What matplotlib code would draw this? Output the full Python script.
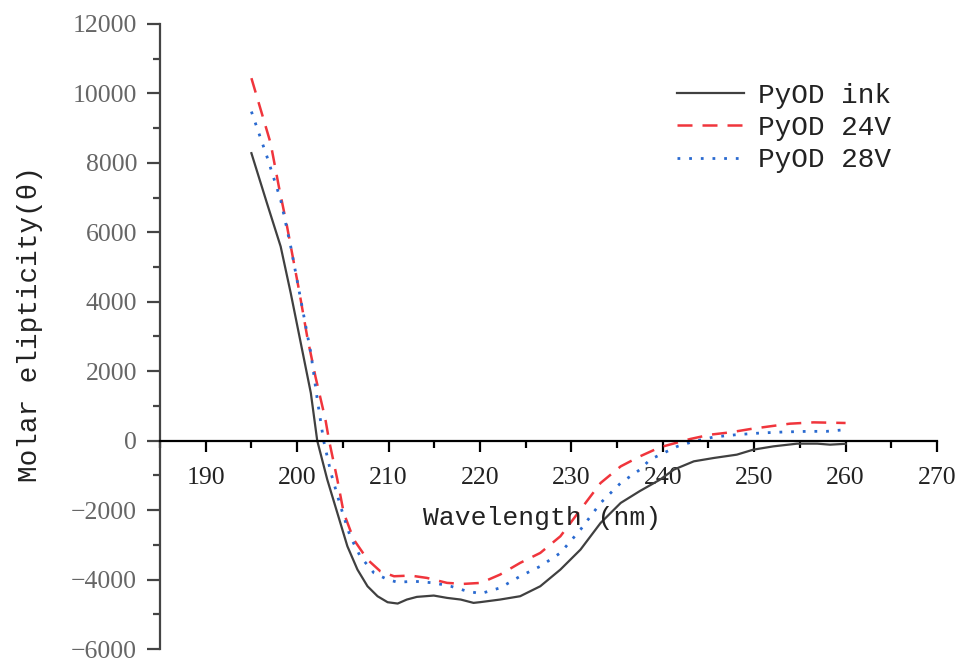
import numpy as np
import matplotlib
matplotlib.use("Agg")
import matplotlib.pyplot as plt
from matplotlib.ticker import MultipleLocator

# ---- data ----
ink_x = [195, 196.7, 198.2, 199.3, 200.4, 201.5, 202.2, 203.3, 204.4, 205.5, 206.6, 207.7,
         208.8, 209.9, 211.0, 212.0, 213.1, 214.95, 216.4, 217.9, 219.3, 220.05, 222.2,
         224.4, 226.6, 228.8, 231, 233.2, 235.4, 237.5, 239.7, 241.2, 243.4, 245.6, 248.1,
         249.9, 252.1, 254.7, 256.9, 258.3, 260]
ink_y = [8280, 6840, 5592, 4251, 2812, 1373, 0, -1122, -2081, -3042, -3713, -4193,
         -4481, -4653, -4691, -4576, -4499, -4461, -4528, -4576, -4672, -4650, -4576,
         -4480, -4193, -3713, -3137, -2369, -1793, -1450, -1122, -835, -595, -498, -403,
         -259, -164, -86, -86, -115, -90]

v24_x = [195, 197.1, 198.0, 198.9, 200.2, 201.1, 202.0, 203.1, 203.5, 204.4, 205.1, 206.2,
         207.7, 209.1, 210.6, 212.4, 214.2, 216.4, 218.2, 220.1, 222.2, 224.4, 226.6, 228.8,
         231, 233.2, 235.4, 237.5, 239.7, 243, 245.2, 247.4, 249.6, 251.7, 253.9, 256.5, 260]
v24_y = [10440, 8568, 7319, 6168, 4346, 3000, 1851, 604, 0, -1122, -2081, -2849,
         -3425, -3761, -3905, -3885, -3953, -4096, -4125, -4096, -3857, -3520, -3233, -2754,
         -1986, -1218, -740, -452, -190, 48, 173, 240, 336, 412, 489, 527, 509]

v28_x = [195, 196.7, 198.2, 199.3, 200.4, 201.5, 202.2, 202.9, 203.7, 204.75, 205.8, 206.9,
         208.4, 209.9, 211.0, 212.8, 214.95, 216.8, 218.6, 220.1, 222.2, 224.4, 226.6, 228.8,
         231, 233.2, 235.4, 237.5, 238.6, 240.1, 241.6, 243.4, 245.6, 248.1, 250.7, 253.2,
         255.8, 257.9, 260]
v28_y = [9478, 8182, 6936, 5592, 4058, 2524, 1200, 0, -930, -1891, -2754, -3330,
         -3808, -4000, -4078, -4049, -4096, -4193, -4337, -4403, -4240, -3905, -3618, -3233,
         -2562, -1793, -1218, -835, -547, -355, -164, -20, 106, 173, 221, 250,
         268, 268, 317]

labels = ["PyOD ink", "PyOD 24V", "PyOD 28V"]
x_ticks = [190, 200, 210, 220, 230, 240, 250, 260, 270]
y_ticks = [-6000, -4000, -2000, 0, 2000, 4000, 6000, 8000, 10000, 12000]

# ---- figure ----
W, H = 957, 662
fig = plt.figure(figsize=(W / 100, H / 100), dpi=100)
ax = fig.add_axes([160 / W, 1 - 649 / H, (937 - 160) / W, (649 - 24) / H])

ax.plot(ink_x, ink_y, color="#404040", lw=1.6, label=labels[0])
ax.plot(v24_x, v24_y, color="#f0353c", lw=1.8, ls=(0, (6, 4)), label=labels[1])
ax.plot(v28_x, v28_y, color="#2a6ad0", lw=2.0, ls=(0, (1, 3.2)), label=labels[2])

ax.set_xlim(185, 270)
ax.set_ylim(-6000, 12000)
ax.set_xticks(x_ticks)
ax.set_yticks(y_ticks)
ax.xaxis.set_minor_locator(MultipleLocator(5))
ax.yaxis.set_minor_locator(MultipleLocator(1000))

for s in ("top", "right"):
    ax.spines[s].set_visible(False)
ax.spines["bottom"].set_position(("data", 0))
ax.spines["bottom"].set_color("black")
ax.spines["bottom"].set_linewidth(1.6)
ax.spines["left"].set_color("#444444")
ax.spines["left"].set_linewidth(1.6)

serif = "Liberation Serif"
mono = "Liberation Mono"
ax.tick_params(axis="y", which="major", direction="out", length=9.5, width=1.6,
               color="#444444", pad=7, labelsize=18.5, labelcolor="#666666")
ax.tick_params(axis="y", which="minor", direction="out", length=5, width=1.6, color="#444444")
ax.tick_params(axis="x", which="major", direction="out", length=8, width=1.6,
               color="black", pad=11, labelsize=18.5, labelcolor="#222222")
ax.tick_params(axis="x", which="minor", direction="out", length=5, width=1.6, color="black")
for t in ax.get_xticklabels() + ax.get_yticklabels():
    t.set_fontfamily(serif)

ax.text(0.492, 0.21, "Wavelength (nm)", transform=ax.transAxes, ha="center", va="center",
        fontsize=19, family=[mono, "DejaVu Sans Mono"], color="#222222")
fig.text(30 / W, 1 - 324 / H, "Molar elipticity(θ)", rotation=90, ha="center", va="center",
         fontsize=20, family=[mono, "DejaVu Sans Mono"], color="#222222")

leg = ax.legend(loc="upper left", bbox_to_anchor=(677 / W, 1 - 83 / H),
                bbox_transform=fig.transFigure, frameon=False, borderpad=0,
                borderaxespad=0, handlelength=2.4, handletextpad=0.5,
                labelspacing=0.22, prop={"family": mono, "size": 20})
for t in leg.get_texts():
    t.set_color("#222222")

fig.savefig("out.png", dpi=100)
